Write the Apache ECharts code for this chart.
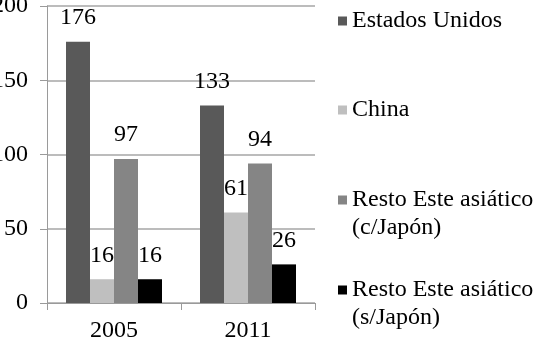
<!DOCTYPE html>
<html>
<head>
<meta charset="utf-8">
<script src="https://cdn.jsdelivr.net/npm/echarts@6/dist/echarts.min.js"></script>
<style>
  html, body { margin: 0; padding: 0; background: #fff; }
  #chart { width: 543px; height: 348px; }
</style>
</head>
<body>
<div id="chart"></div>
<script>
// datos
const years = ['2005', '2011'];
const seriesNames = [
  'Estados Unidos',
  'China',
  'Resto Este asiático\n(c/Japón)',
  'Resto Este asiático\n(s/Japón)'
];
const estadosUnidos = [176, 133];
const china = [16, 61];
const restoConJapon = [97, 94];
const restoSinJapon = [16, 26];
const yTicks = [0, 50, 100, 150, 200];

const colors = ['#595959', '#bfbfbf', '#858585', '#000000'];
const values = [estadosUnidos, china, restoConJapon, restoSinJapon];
const font = "'Liberation Serif', serif";
const fs = 24;
const legendTops = [7, 96, 158, 248];

const chart = echarts.init(document.getElementById('chart'));

const series = seriesNames.map((name, i) => ({
  name: name,
  type: 'bar',
  data: values[i],
  barWidth: 24,
  barGap: '0%',
  itemStyle: { color: colors[i] },
  label: {
    show: true,
    position: 'top',
    distance: 12,
    color: '#000',
    fontFamily: font,
    fontSize: fs
  }
}));

// dos líneas: se añade una línea vacía arriba para que el icono quede junto a la primera
const legends = seriesNames.map((name, i) => ({
  left: 338,
  top: legendTops[i],
  padding: 0,
  itemWidth: 9,
  itemHeight: 9,
  icon: 'rect',
  selectedMode: false,
  data: [name],
  formatter: n => (n.indexOf('\n') >= 0 ? ' \n' + n : n),
  textStyle: {
    fontFamily: font,
    fontSize: fs,
    color: '#000',
    lineHeight: 28
  }
}));

const option = {
  animation: false,
  legend: legends,
  grid: { left: 47, right: 228, top: 6, bottom: 45, containLabel: false, outerBoundsMode: 'none' },
  xAxis: {
    type: 'category',
    data: years,
    axisLine: { lineStyle: { color: '#9a9a9a', width: 1 } },
    axisTick: { show: true, length: 7, lineStyle: { color: '#9a9a9a' } },
    axisLabel: { color: '#000', fontFamily: font, fontSize: fs, margin: 16 }
  },
  yAxis: {
    type: 'value',
    min: yTicks[0],
    max: yTicks[yTicks.length - 1],
    interval: 50,
    axisLine: { show: true, lineStyle: { color: '#9a9a9a' } },
    axisTick: { show: true, length: 7, lineStyle: { color: '#9a9a9a' } },
    axisLabel: { color: '#000', fontFamily: font, fontSize: fs, margin: 19 },
    splitLine: { lineStyle: { color: '#a6a6a6', width: 1.5 } }
  },
  series: series
};

chart.setOption(option);
</script>
</body>
</html>
